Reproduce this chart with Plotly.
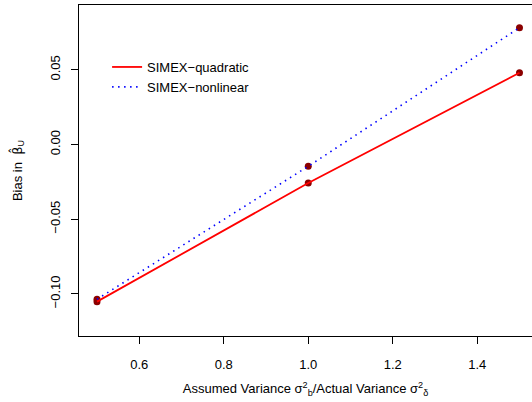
import plotly.graph_objects as go

ratio = [0.5, 1.0, 1.5]
bias_quadratic = [-0.1052, -0.0258, 0.0480]
bias_nonlinear = [-0.1036, -0.0146, 0.0782]
x_ticks = [0.6, 0.8, 1.0, 1.2, 1.4]
y_ticks = [-0.10, -0.05, 0.00, 0.05]

font = "Liberation Sans, Arial, sans-serif"
fig = go.Figure()
fig.add_trace(go.Scatter(x=ratio + ratio, y=bias_quadratic + bias_nonlinear, mode="markers",
                         marker=dict(color="#8B0000", size=7), showlegend=False, hoverinfo="skip"))
fig.add_trace(go.Scatter(x=ratio, y=bias_quadratic, mode="lines", name="SIMEX\u2212quadratic",
                         line=dict(color="red", width=1.8)))
fig.add_trace(go.Scatter(x=ratio, y=bias_nonlinear, mode="lines", name="SIMEX\u2212nonlinear",
                         line=dict(color="blue", width=1.6, dash="1.5px,4.5px")))

fig.update_layout(
    width=532, height=402,
    margin=dict(l=79, r=0, t=5, b=66, autoexpand=False),
    plot_bgcolor="white", paper_bgcolor="white",
    font=dict(family=font, size=13, color="black"),
    legend=dict(x=0.062, y=0.858, xanchor="left", yanchor="top", bgcolor="rgba(0,0,0,0)",
                itemwidth=30, tracegroupgap=0, font=dict(size=13)),
    xaxis=dict(range=[0.4574, 1.5296], tickvals=x_ticks, ticktext=["0.6", "0.8", "1.0", "1.2", "1.4"],
               showgrid=False, zeroline=False, showline=True, linecolor="black", linewidth=1,
               mirror=True, ticks="outside", ticklen=7, tickcolor="black", ticklabelstandoff=9,
               automargin=False,
               title=dict(text="Assumed Variance \u03c3<sup>2</sup><sub>b</sub>/Actual Variance \u03c3<sup>2</sup><sub>\u03b4</sub>",
                          standoff=13, font=dict(size=13))),
    yaxis=dict(range=[-0.1282, 0.0934], tickvals=y_ticks, ticktext=["\u22120.10", "\u22120.05", "0.00", "0.05"],
               tickangle=-90, showgrid=False, zeroline=False, showline=True, linecolor="black",
               linewidth=1, ticks="outside", ticklen=7, tickcolor="black", ticklabelstandoff=6,
               automargin=False,
               title=dict(text="Bias in  <span style=\"font-family:DejaVu Sans\">\u03b2\u0302</span><sub>U</sub>",
                          standoff=22, font=dict(size=13))),
)
fig.write_html("out.html")
